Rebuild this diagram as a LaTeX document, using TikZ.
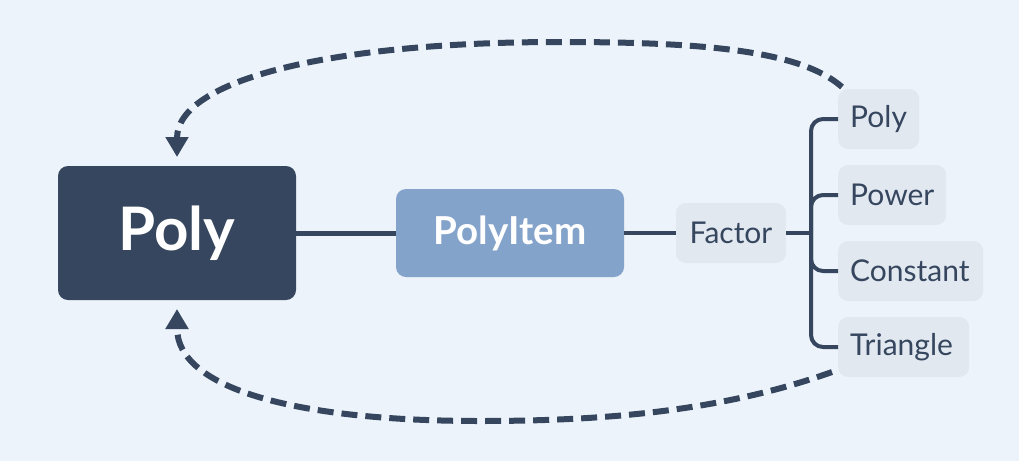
\documentclass[tikz,border=0pt]{standalone}
\usepackage{fontspec}
\setmainfont{Lato}
\usetikzlibrary{arrows.meta}
\definecolor{bg}{HTML}{ECF3FA}
\definecolor{dark}{HTML}{35465E}
\definecolor{mid}{HTML}{84A3CA}
\definecolor{light}{HTML}{E1E8F0}
\tikzset{
  rootbox/.style={fill=dark, text=white, rounded corners=10pt, minimum width=238pt, minimum height=134pt, inner sep=0pt, font=\fontsize{60}{64}\selectfont\bfseries},
  itembox/.style={fill=mid, text=white, rounded corners=10pt, minimum width=228pt, minimum height=88pt, inner sep=0pt, font=\fontsize{38.5}{42}\selectfont\bfseries},
  leafbox/.style={fill=light, text=dark, rounded corners=10pt, minimum height=60pt, inner xsep=12pt, inner ysep=0pt, align=left, font=\fontsize{30}{34}\selectfont},
  solidlink/.style={draw=dark, line width=5pt},
  branch/.style={draw=dark, line width=4pt, rounded corners=12pt},
  backlink/.style={draw=dark, line width=6pt, dash pattern=on 16pt off 8pt, -{Triangle[width=22pt,length=20pt]}},
}
\begin{document}
\begin{tikzpicture}[x=1pt,y=-1pt]
\path[fill=bg] (0,0) rectangle (1019,461);
\node[rootbox] (root) at (177,233) {Poly};
\node[itembox] (item) at (510,233) {PolyItem};
\node[leafbox, anchor=center, minimum width=110pt, align=center, inner xsep=0pt] (fac) at (731,233) {Factor};
\node[leafbox, anchor=west, text width=57pt] (lpoly) at (838,119) {Poly};
\node[leafbox, anchor=west, text width=84pt] (lpow) at (838,195) {Power};
\node[leafbox, anchor=west, text width=121pt] (lcon) at (838,271) {Constant};
\node[leafbox, anchor=west, text width=107pt] (ltri) at (838,347) {Triangle};
\coordinate (spine) at (811,233);
\draw[solidlink] (root.east) -- (item.west);
\draw[solidlink, line width=4pt] (item.east) -- (fac.west);
\draw[branch] (fac.east) -- (spine);
\draw[branch] (spine) |- (lpoly.west);
\draw[branch] (spine) |- (lpow.west);
\draw[branch] (spine) |- (lcon.west);
\draw[branch] (spine) |- (ltri.west);
\coordinate (topstart) at (842,87);
\coordinate (toppeak) at (560,42);
\coordinate (toptip) at (177,157);
\coordinate (botstart) at (832,372);
\coordinate (botpeak) at (480,421);
\coordinate (bottip) at (177,309);
\draw[backlink] (topstart) .. controls (800,50) and (700,42) .. (toppeak) .. controls (330,42) and (177,80) .. (toptip);
\draw[backlink] (botstart) .. controls (720,412) and (600,421) .. (botpeak) .. controls (300,421) and (177,390) .. (bottip);
\end{tikzpicture}
\end{document}
